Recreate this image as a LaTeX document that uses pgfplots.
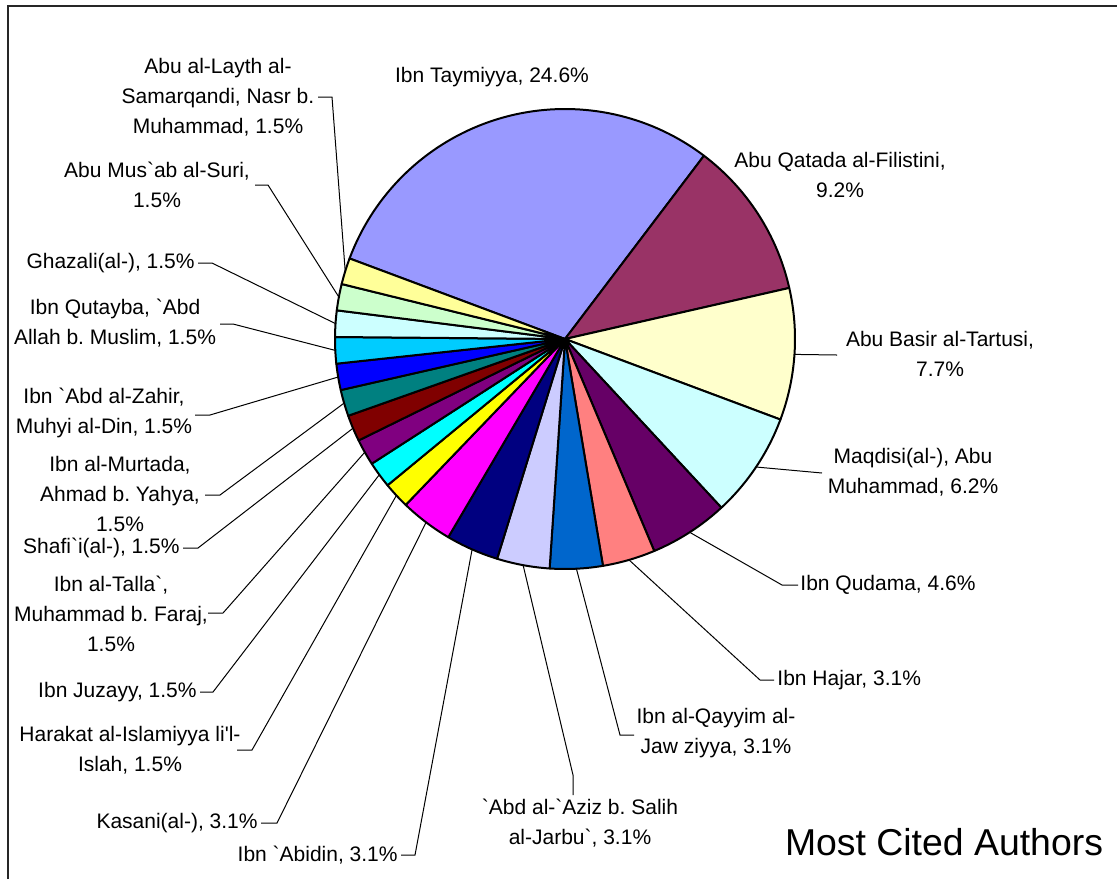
\documentclass[border=0pt]{standalone}
\usepackage{fontspec}
\newfontfamily\af{Liberation Sans}
\usepackage{pgfplots}
\pgfplotsset{compat=1.18}
\frenchspacing
\definecolor{c1}{HTML}{9999FF}
\definecolor{c2}{HTML}{993366}
\definecolor{c3}{HTML}{FFFFCC}
\definecolor{c4}{HTML}{CCFFFF}
\definecolor{c5}{HTML}{660066}
\definecolor{c6}{HTML}{FF8080}
\definecolor{c7}{HTML}{0066CC}
\definecolor{c8}{HTML}{CCCCFF}
\definecolor{c9}{HTML}{000080}
\definecolor{c10}{HTML}{FF00FF}
\definecolor{c11}{HTML}{FFFF00}
\definecolor{c12}{HTML}{00FFFF}
\definecolor{c13}{HTML}{800080}
\definecolor{c14}{HTML}{800000}
\definecolor{c15}{HTML}{008080}
\definecolor{c16}{HTML}{0000FF}
\definecolor{c17}{HTML}{00CCFF}
\definecolor{c18}{HTML}{CCFFFF}
\definecolor{c19}{HTML}{CCFFCC}
\definecolor{c20}{HTML}{FFFF99}
\begin{document}
\frenchspacing
\begin{tikzpicture}
\begin{axis}[scale only axis, width=558.5pt, height=439.5pt,
  xmin=0, xmax=1117, ymin=0, ymax=879, y dir=reverse,
  hide axis, clip=false]
\coordinate (bl) at (axis cs:0,879);
\coordinate (tr) at (axis cs:1117,0);
% frame
\draw[line width=1pt, black!85] (axis cs:8,879) -- (axis cs:8,6) -- (axis cs:1117,6);
% pie slices: citation counts (total 54), clockwise from 159.5 deg
\xdef\angA{159.5}
\foreach \n/\col in {16/c1,6/c2,5/c3,4/c4,3/c5,2/c6,2/c7,2/c8,2/c9,2/c10,
                     1/c11,1/c12,1/c13,1/c14,1/c15,1/c16,1/c17,1/c18,1/c19,1/c20} {
  \pgfmathsetmacro\angB{\angA - \n*360/54}
  \edef\slice{\noexpand\filldraw[fill=\col, draw=black, line width=1pt, line join=round]
     (axis cs:565,339) -- ++(\angA:115pt) arc[start angle=\angA, end angle=\angB, radius=115pt] -- cycle;}
  \slice
  \xdef\angA{\angB}
}
% leader lines
\begin{scope}[line width=0.5pt, black]
\draw (axis cs:794.5,354.4) -- (axis cs:837,355);
\draw (axis cs:756.0,467.0) -- (axis cs:822,473);
\draw (axis cs:689.7,532.3) -- (axis cs:782,585) -- (axis cs:798,585);
\draw (axis cs:629.0,559.9) -- (axis cs:760,680) -- (axis cs:774,680);
\draw (axis cs:576.4,568.7) -- (axis cs:620,735) -- (axis cs:634,735);
\draw (axis cs:523.1,565.1) -- (axis cs:573,775) -- (axis cs:573,795);
\draw (axis cs:472.1,549.4) -- (axis cs:415,855) -- (axis cs:401,855);
\draw (axis cs:426.1,522.3) -- (axis cs:277,823) -- (axis cs:261,823);
\draw (axis cs:396.4,495.4) -- (axis cs:252,750) -- (axis cs:237,750);
\draw (axis cs:379.3,474.7) -- (axis cs:213,692) -- (axis cs:200,692);
\draw (axis cs:364.8,452.2) -- (axis cs:223,613) -- (axis cs:208,613);
\draw (axis cs:353.0,428.2) -- (axis cs:198,548) -- (axis cs:183,548);
\draw (axis cs:344.1,403.1) -- (axis cs:220,495) -- (axis cs:205,495);
\draw (axis cs:338.2,377.0) -- (axis cs:210,415) -- (axis cs:195,415);
\draw (axis cs:335.3,350.4) -- (axis cs:233,324) -- (axis cs:220,324);
\draw (axis cs:335.5,323.6) -- (axis cs:212,263) -- (axis cs:198,263);
\draw (axis cs:338.9,297.1) -- (axis cs:268,185) -- (axis cs:255,185);
\draw (axis cs:345.2,271.1) -- (axis cs:332,97) -- (axis cs:318,97);
\end{scope}
% labels
\begin{scope}[every node/.style={font=\af\fontsize{10.5}{15}\selectfont\frenchspacing, inner sep=0pt, align=center, text=black}]
\node at (axis cs:492,77) {Ibn Taymiyya, 24.6\%};
\node at (axis cs:840,175) {Abu Qatada al-Filistini,\\9.2\%};
\node at (axis cs:940,354) {Abu Basir al-Tartusi,\\7.7\%};
\node at (axis cs:913,472) {Maqdisi(al-), Abu\\Muhammad, 6.2\%};
\node[anchor=west] at (axis cs:800,585) {Ibn Qudama, 4.6\%};
\node[anchor=west] at (axis cs:777,680) {Ibn Hajar, 3.1\%};
\node at (axis cs:716,733) {Ibn al-Qayyim al-\\Jaw ziyya, 3.1\%};
\node at (axis cs:580,823) {`Abd al-`Aziz b. Salih\\al-Jarbu`, 3.1\%};
\node[anchor=east] at (axis cs:398,855) {Ibn `Abidin, 3.1\%};
\node[anchor=east] at (axis cs:258,823) {Kasani(al-), 3.1\%};
\node at (axis cs:130,750) {Harakat al-Islamiyya li'l-\\Islah, 1.5\%};
\node[anchor=east] at (axis cs:197,692) {Ibn Juzayy, 1.5\%};
\node at (axis cs:111,614) {Ibn al-Talla`,\\Muhammad b. Faraj,\\1.5\%};
\node[anchor=east] at (axis cs:180,548) {Shafi`i(al-), 1.5\%};
\node at (axis cs:120,494) {Ibn al-Murtada,\\Ahmad b. Yahya,\\1.5\%};
\node at (axis cs:104,413) {Ibn `Abd al-Zahir,\\Muhyi al-Din, 1.5\%};
\node at (axis cs:115,323) {Ibn Qutayba, `Abd\\Allah b. Muslim, 1.5\%};
\node[anchor=east] at (axis cs:195,263) {Ghazali(al-), 1.5\%};
\node at (axis cs:157,185) {Abu Mus`ab al-Suri,\\1.5\%};
\node at (axis cs:218,97) {Abu al-Layth al-\\Samarqandi, Nasr b.\\Muhammad, 1.5\%};
\end{scope}
\node[font=\af\fontsize{18.7}{22}\selectfont, inner sep=0pt] at (axis cs:944,842) {Most Cited Authors};
\end{axis}
\pgfresetboundingbox
\useasboundingbox (bl) rectangle (tr);
\end{tikzpicture}
\end{document}
